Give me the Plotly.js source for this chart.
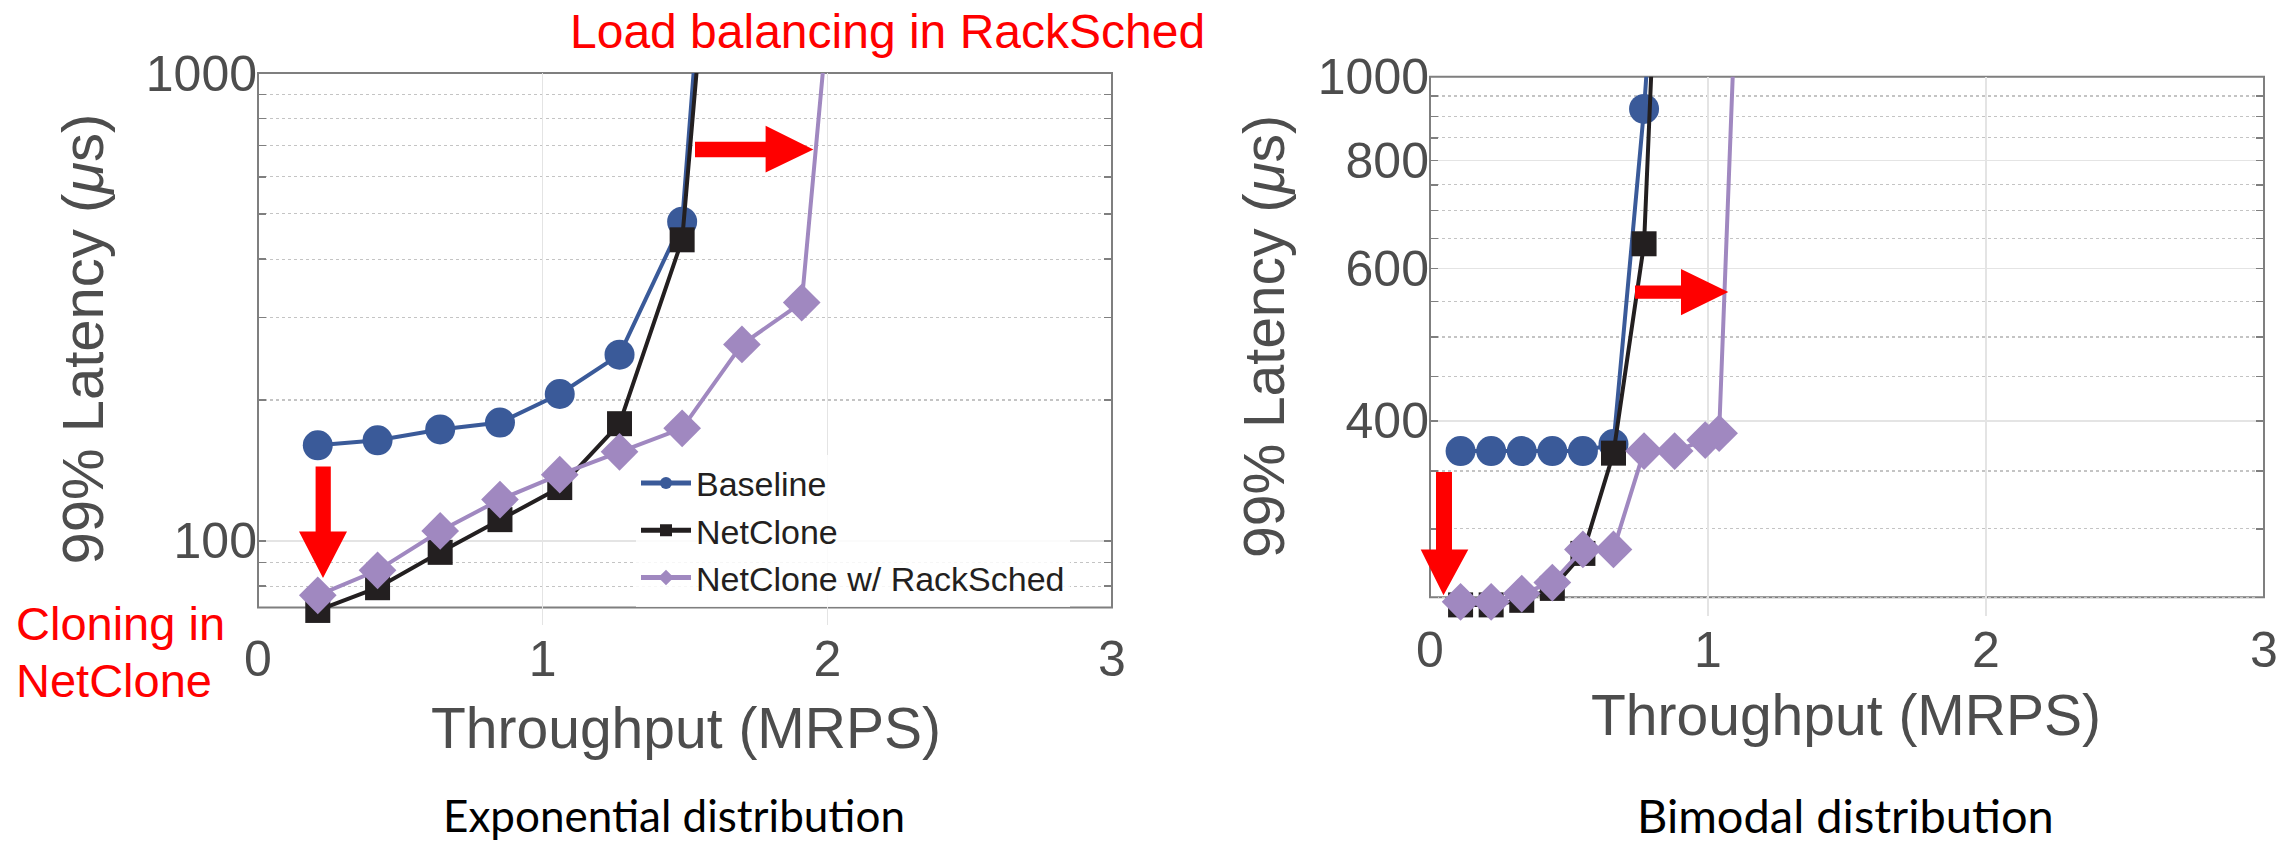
<!DOCTYPE html>
<html>
<head>
<meta charset="utf-8">
<script src="https://cdn.plot.ly/plotly-3.0.1.min.js"></script>
<style>html,body{margin:0;padding:0;background:#fff;}#chart{width:2282px;height:843px;}</style>
</head>
<body>
<div id="chart"></div>
<script>
// ---------- Data ----------
// Exponential distribution (left panel)
const expBaseX = [0.21, 0.42, 0.64, 0.85, 1.06, 1.27, 1.49, 1.70];
const expBaseY = [160, 164, 173, 179, 206, 250, 481, 22000];
const expNetX  = [0.21, 0.42, 0.64, 0.85, 1.06, 1.27, 1.49, 1.70];
const expNetY  = [71, 79.4, 94.5, 111, 130, 178, 440, 13500];
const expRackX = [0.21, 0.42, 0.64, 0.85, 1.06, 1.27, 1.49, 1.70, 1.91, 2.12];
const expRackY = [76.5, 86.5, 105, 122.5, 138.5, 155, 174, 263, 323, 8000];

// Bimodal distribution (right panel)
const bimBaseX = [0.11, 0.22, 0.33, 0.44, 0.55, 0.66, 0.77, 0.88];
const bimBaseY = [369, 369, 369, 369, 369, 376, 918, 3000];
const bimNetX  = [0.11, 0.22, 0.33, 0.44, 0.55, 0.66, 0.77, 0.88];
const bimNetY  = [245, 245, 248, 256, 281, 367, 641, 4400];
const bimRackX = [0.11, 0.22, 0.33, 0.44, 0.55, 0.66, 0.77, 0.88, 0.99, 1.04, 1.15];
const bimRackY = [247, 247, 252.5, 260, 284, 284, 369, 369, 380, 387, 3280];

const seriesNames = ["Baseline", "NetClone", "NetClone w/ RackSched"];
const xTicks = [0, 1, 2, 3];
const expYTicks = [100, 1000];
const expYMinor = [80, 90, 200, 300, 400, 500, 600, 700, 800, 900];
const bimYTicks = [400, 600, 800, 1000];
const bimYMinor = [250, 300, 350, 450, 500, 550, 650, 700, 750, 850, 900, 950];
const annText = {
  top: "Load balancing in RackSched",
  clone1: "Cloning in",
  clone2: "NetClone",
  xTitle: "Throughput (MRPS)",
  yTitle: "99% Latency (<i>μ</i>s)",
  capLeft: "Exponential distribution",
  capRight: "Bimodal distribution"
};

// ---------- Styles ----------
const W = 2282, H = 843;
const FONT = "Liberation Sans, Arial, Helvetica, sans-serif";
const CAPFONT = "Lato, Open Sans, sans-serif";
const colors = ["#3A5A99", "#231F20", "#A088C0"];
const symbols = ["circle", "square", "diamond"];
const msize = [30, 25, 29];
const visibleMax = 1000;

function sizes(ys, s) { return ys.map(v => (v > visibleMax ? 0 : s)); }

function trace(x, y, i, xa, ya, showleg) {
  return {
    x: x, y: y, xaxis: xa, yaxis: ya,
    type: "scatter", mode: "lines+markers",
    name: seriesNames[i], showlegend: showleg,
    cliponaxis: false,
    line: {color: colors[i], width: 4},
    marker: {symbol: symbols[i], color: colors[i], opacity: 1, size: sizes(y, msize[i]), line: {width: 0}}
  };
}

const data = [
  trace(expBaseX, expBaseY, 0, "x", "y", true),
  trace(expNetX, expNetY, 1, "x", "y", true),
  trace(expRackX, expRackY, 2, "x", "y", true),
  trace(bimBaseX, bimBaseY, 0, "x2", "y2", false),
  trace(bimNetX, bimNetY, 1, "x2", "y2", false),
  trace(bimRackX, bimRackY, 2, "x2", "y2", false)
];

// Panel frames in pixels [left, right, top, bottom]; refLo is the value at the frame's
// bottom edge, lo a slightly lower range end so markers just under the frame still show.
const panels = [
  {box: [258, 1112, 73, 607.6], refLo: 72, lo: 66},
  {box: [1430, 2264, 76.8, 597.3], refLo: 250, lo: 238}
];
panels.forEach(p => {
  const [l, r, t, b] = p.box;
  const span = 3 - Math.log10(p.refLo);
  p.botPx = t + (3 - Math.log10(p.lo)) / span * (b - t);
  p.frameY0 = (p.botPx - b) / (p.botPx - t);
});

const tickFont = {family: FONT, size: 50, color: "#4D4D4D"};
function xaxis(p, anchor) {
  return {
    domain: [p.box[0] / W, p.box[1] / W], anchor: anchor, range: [0, 3], tickmode: "array", tickvals: xTicks,
    showgrid: true, gridcolor: "#E4E4E4", gridwidth: 1.5, zeroline: false,
    showline: false, ticks: "", tickfont: tickFont, layer: "below traces",
    ticklabelstandoff: 12 - (p.botPx - p.box[3])
  };
}
function yaxis(p, anchor, ticks, minor) {
  return {
    domain: [1 - p.botPx / H, 1 - p.box[2] / H], anchor: anchor, type: "log",
    range: [Math.log10(p.lo), 3],
    tickmode: "array", tickvals: ticks, ticktext: ticks.map(String),
    showgrid: true, gridcolor: "#E4E4E4", gridwidth: 1.5, zeroline: false,
    showline: false, mirror: "allticks",
    ticks: "inside", ticklen: 8, tickcolor: "#7F7F7F", tickwidth: 1.5,
    tickfont: tickFont, layer: "below traces", ticklabelstandoff: 17.5,
    minor: {tickmode: "array", tickvals: minor, showgrid: true, gridcolor: "#C4C4C4",
            griddash: "dot", gridwidth: 1.2, ticks: "inside", ticklen: 8, tickcolor: "#7F7F7F"}
  };
}

function P(px, py) { return (px / W).toFixed(5) + "," + (1 - py / H).toFixed(5); }
function arrowPath(pts) { return "M" + pts.map(p => P(p[0], p[1])).join(" L") + " Z"; }
function arrowShape(pts) {
  return {type: "path", xref: "paper", yref: "paper", path: arrowPath(pts),
          fillcolor: "#FF0000", line: {width: 0}, layer: "above"};
}
function frame(p, xr, yr) {
  return {type: "rect", xref: xr + " domain", yref: yr + " domain", x0: 0, x1: 1, y0: p.frameY0, y1: 1,
          line: {color: "#7F7F7F", width: 2}, fillcolor: "rgba(0,0,0,0)", layer: "below"};
}
const shapes = [
  frame(panels[0], "x", "y"),
  frame(panels[1], "x2", "y2"),
  arrowShape([[315.6,466.4],[330.8,466.4],[330.8,531.4],[347,531.4],[323,578],[299,531.4],[315.6,531.4]]),
  arrowShape([[695,141.8],[765.6,141.8],[765.6,125.8],[813.4,149.5],[765.6,172.5],[765.6,157.2],[695,157.2]]),
  arrowShape([[1436,472],[1452,472],[1452,549.4],[1468.3,549.4],[1443.5,595.3],[1420.7,549.4],[1436,549.4]]),
  arrowShape([[1635,285.4],[1681,285.4],[1681,268.9],[1728.3,292],[1681,315.2],[1681,298.8],[1635,298.8]])
];

function ann(text, px, py, opts) {
  return Object.assign({text: text, xref: "paper", yref: "paper", x: px / W, y: 1 - py / H,
    showarrow: false, xanchor: "center", yanchor: "middle"}, opts);
}
const red = {family: FONT, size: 48, color: "#FF0000"};
const titleFont = {family: FONT, size: 57, color: "#4D4D4D"};
const annotations = [
  ann(annText.top, 887, 32, {font: red}),
  ann(annText.clone1, 14, 623.5, {font: Object.assign({}, red, {size: 47}), xanchor: "left"}),
  ann(annText.clone2, 14, 680.5, {font: Object.assign({}, red, {size: 47}), xanchor: "left"}),
  ann(annText.xTitle, 686, 728, {font: titleFont}),
  ann(annText.xTitle, 1846, 714.5, {font: titleFont}),
  ann(annText.yTitle, 82.5, 339, {font: Object.assign({}, titleFont, {size: 58}), textangle: -90}),
  ann(annText.yTitle, 1264, 337, {font: titleFont, textangle: -90}),
  ann(annText.capLeft, 674, 815, {font: {family: CAPFONT, size: 44, color: "#000"}}),
  ann(annText.capRight, 1845, 815, {font: {family: CAPFONT, size: 47, color: "#000"}})
];

const layout = {
  width: W, height: H, margin: {l: 0, r: 0, t: 0, b: 0},
  paper_bgcolor: "#FFFFFF", plot_bgcolor: "rgba(0,0,0,0)",
  font: {family: FONT},
  xaxis: xaxis(panels[0], "y"),
  yaxis: yaxis(panels[0], "x", expYTicks, expYMinor),
  xaxis2: xaxis(panels[1], "y2"),
  yaxis2: yaxis(panels[1], "x2", bimYTicks, bimYMinor),
  legend: {x: 636 / W, y: 1 - 454.5 / H, xanchor: "left", yanchor: "top",
           bgcolor: "rgba(255,255,255,0.85)", borderwidth: 0,
           font: {family: FONT, size: 34, color: "#231F20"},
           itemsizing: "constant", itemwidth: 50, tracegroupgap: 0},
  shapes: shapes,
  annotations: annotations
};

Plotly.newPlot("chart", data, layout, {displayModeBar: false, staticPlot: true});
</script>
</body>
</html>
